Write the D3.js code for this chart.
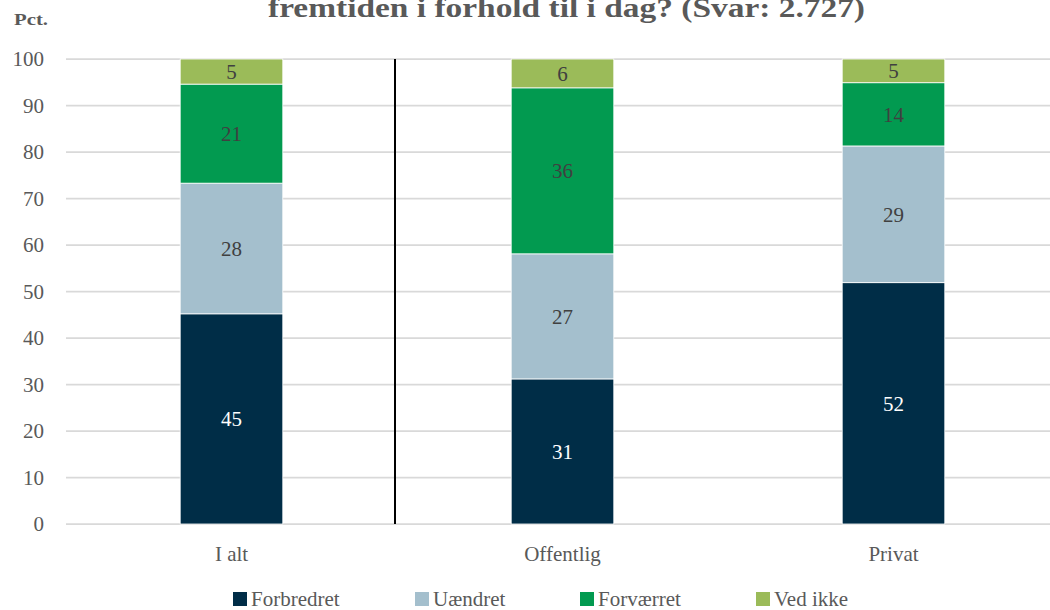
<!DOCTYPE html>
<html>
<head>
<meta charset="utf-8">
<script src="https://cdn.jsdelivr.net/npm/d3@7"></script>
<style>
  body { margin: 0; background: #fff; }
  svg { display: block; font-family: "Liberation Serif", "DejaVu Serif", serif; }
</style>
</head>
<body>
<svg id="chart"></svg>
<script>
// data
var categories = ["I alt", "Offentlig", "Privat"];
var seriesNames = ["Forbredret", "Uændret", "Forværret", "Ved ikke"];
var forbedret = [45.2, 31.2, 51.9];
var uaendret = [28.1, 26.9, 29.4];
var forvaerret = [21.3, 35.7, 13.6];
var vedIkke = [5.4, 6.2, 5.1];
var yTicks = [0, 10, 20, 30, 40, 50, 60, 70, 80, 90, 100];
var colors = ["#002D47", "#A4BFCD", "#029A50", "#9BBB59"];

var size = { width: 1050, height: 610 };
var margin = { top: 59, right: -9, bottom: 86, left: 66 };
var width = size.width - margin.left - margin.right;
var height = size.height - margin.top - margin.bottom;
var serif = "Liberation Serif, serif";

var svg = d3.select("#chart")
  .attr("width", size.width)
  .attr("height", size.height);

var table = categories.map(function(c, i){
  return { cat: c, "Forbredret": forbedret[i], "Uændret": uaendret[i], "Forværret": forvaerret[i], "Ved ikke": vedIkke[i] };
});
var stacked = d3.stack().keys(seriesNames)(table);

var x = d3.scaleBand().domain(categories).range([0, width]).paddingInner(0.69).paddingOuter(0.345);
var y = d3.scaleLinear().domain([0, 100]).range([height, 0]);

var g = svg.append("g").attr("transform", "translate(" + margin.left + "," + margin.top + ")");

// title (its first line is above the picture)
svg.append("text")
  .attr("x", 268).attr("y", 17)
  .attr("textLength", 597).attr("lengthAdjust", "spacingAndGlyphs")
  .attr("font-size", 27).attr("font-weight", "bold").attr("fill", "#595959")
  .text("fremtiden i forhold til i dag? (Svar: 2.727)");

svg.append("text")
  .attr("x", 14).attr("y", 25)
  .attr("textLength", 34).attr("lengthAdjust", "spacingAndGlyphs")
  .attr("font-size", 17).attr("font-weight", "bold").attr("fill", "#595959")
  .text("Pct.");

// gridlines
g.append("g")
  .selectAll("line").data(yTicks).join("line")
  .attr("x1", 0).attr("x2", width)
  .attr("y1", function(d){ return y(d); }).attr("y2", function(d){ return y(d); })
  .attr("stroke", "#d9d9d9").attr("stroke-width", 1.75);

// y axis
var yAxis = g.append("g").call(d3.axisLeft(y).tickValues(yTicks).tickSize(0).tickPadding(22));
yAxis.select(".domain").remove();
yAxis.selectAll("text").attr("font-size", 21).attr("fill", "#595959").attr("font-family", serif);

// x axis
var xAxis = g.append("g").attr("transform", "translate(0," + height + ")")
  .call(d3.axisBottom(x).tickSize(0).tickPadding(22));
xAxis.select(".domain").remove();
xAxis.selectAll("text").attr("font-size", 21).attr("fill", "#595959").attr("font-family", serif);

// bars
var layers = g.selectAll(".layer").data(stacked).join("g")
  .attr("fill", function(d, i){ return colors[i]; });

layers.selectAll("rect").data(function(d){ return d; }).join("rect")
  .attr("x", function(d){ return x(d.data.cat); })
  .attr("width", x.bandwidth())
  .attr("y", function(d){ return y(d[1]); })
  .attr("height", function(d){ return y(d[0]) - y(d[1]); })
  .attr("stroke", "#fff").attr("stroke-width", 0.8);

layers.each(function(layer, li){
  d3.select(this).selectAll("text").data(layer).join("text")
    .attr("x", function(d){ return x(d.data.cat) + x.bandwidth() / 2; })
    .attr("y", function(d){ return (y(d[0]) + y(d[1])) / 2; })
    .attr("dy", "0.35em")
    .attr("text-anchor", "middle")
    .attr("font-size", 21)
    .attr("fill", li === 0 ? "#ffffff" : "#404040")
    .text(function(d){ return Math.round(d[1] - d[0]); });
});

// separator between total and sectors
var sepX = (x("I alt") + x.bandwidth() + x("Offentlig")) / 2 - 2;
g.append("line")
  .attr("x1", sepX).attr("x2", sepX)
  .attr("y1", y(100)).attr("y2", y(0))
  .attr("stroke", "#000").attr("stroke-width", 2);

// legend
var legendX = [233, 415, 580, 756];
var legend = svg.append("g").selectAll("g").data(seriesNames).join("g")
  .attr("transform", function(d, i){ return "translate(" + legendX[i] + ",592)"; });
legend.append("rect").attr("width", 14).attr("height", 14)
  .attr("fill", function(d, i){ return colors[i]; });
legend.append("text").attr("x", 18).attr("y", 14)
  .attr("font-size", 21).attr("fill", "#595959")
  .text(function(d){ return d; });
</script>
</body>
</html>
